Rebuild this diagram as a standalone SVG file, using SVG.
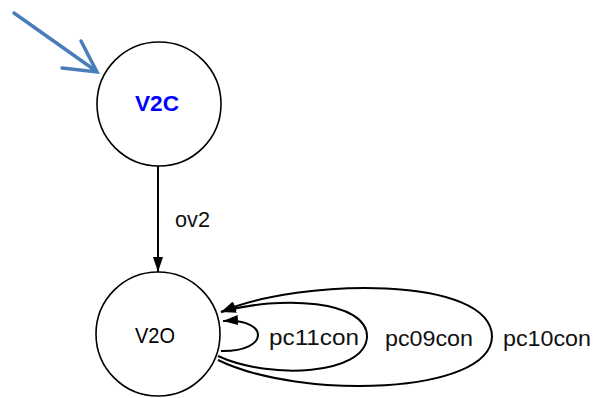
<svg xmlns="http://www.w3.org/2000/svg" width="603" height="398" viewBox="0 0 603 398">
<style>
.node{fill:#fff;stroke:#000;stroke-width:1.6}
.edge{fill:none;stroke:#000;stroke-width:2}
.lbl{font-family:"Liberation Sans",Arial,sans-serif;font-size:22px;fill:#111}
.nlbl{font-family:"Liberation Sans",Arial,sans-serif;font-size:22px;text-anchor:middle}
</style>
<defs>
<marker id="ah" markerUnits="userSpaceOnUse" markerWidth="16" markerHeight="10" refX="15" refY="5" orient="auto">
<path d="M0,0 L15,5 L0,10 z" fill="#000"/>
</marker>
</defs>
<rect width="603" height="398" fill="#fff"/>
<g id="start">
<path d="M14,13 L96,71 M81,41 L97,72 L62,68" fill="none" stroke="#4a7ebb" stroke-width="3.5" stroke-linecap="round" stroke-linejoin="miter"/>
</g>
<g id="connectors">
<path class="edge" d="M158,166 L158,272" stroke-width="1.6" marker-end="url(#ah)"/>
<text class="lbl" x="175" y="227" textLength="35" lengthAdjust="spacingAndGlyphs">ov2</text>
<path class="edge" d="M218,360 C300,400 490,395 492,337 C492,275 300,278 221,312" marker-end="url(#ah)"/>
<text class="lbl" x="503" y="346" textLength="88" lengthAdjust="spacingAndGlyphs">pc10con</text>
<path class="edge" d="M218,356 C270,380 365,375 367,337 C368,300 280,295 221,312" marker-end="url(#ah)"/>
<text class="lbl" x="385" y="346" textLength="88" lengthAdjust="spacingAndGlyphs">pc09con</text>
<path class="edge" d="M221,351 C270,352 270,318 223,321" marker-end="url(#ah)"/>
<text class="lbl" x="269" y="345" textLength="90" lengthAdjust="spacingAndGlyphs">pc11con</text>
</g>
<g id="V2C">
<circle class="node" cx="159" cy="104" r="62"/>
<text class="nlbl" x="157" y="111" font-weight="bold" fill="#0000ff" textLength="44" lengthAdjust="spacingAndGlyphs">V2C</text>
</g>
<g id="V2O">
<circle class="node" cx="158" cy="334" r="62"/>
<text class="nlbl" x="155" y="343" fill="#000" textLength="40" lengthAdjust="spacingAndGlyphs">V2O</text>
</g>
</svg>
